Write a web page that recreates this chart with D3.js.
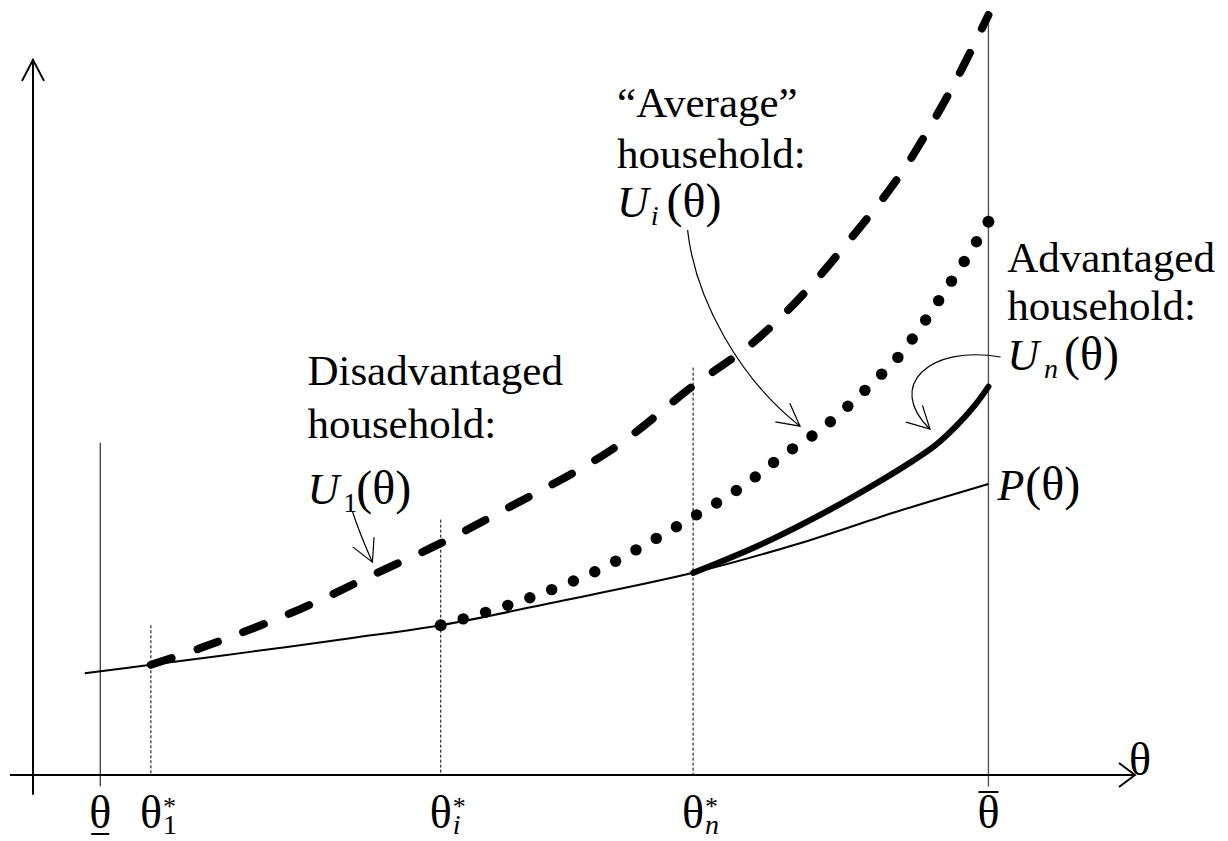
<!DOCTYPE html>
<html><head><meta charset="utf-8">
<script src="https://cdn.jsdelivr.net/npm/d3@7"></script>
<style>
body{margin:0;background:#fff}
svg text{font-family:"Liberation Serif","Times New Roman",serif;fill:#000}
</style>
</head><body>
<svg id="chart" width="1228" height="841"></svg>
<script>
// ---------- data (abstract units: theta 0..100, utility 0..100) ----------
const tickKeys   = ["low", "t1", "ti", "tn", "high"];
const tickValues = [6.1, 10.7, 37.0, 59.9, 86.7];
const tickSup    = ["", "*", "*", "*", ""];
const tickSub    = ["", "1", "i", "n", ""];
const tickSubItalic = [false, false, true, true, false];
const guideTop   = [43.7, 19.7, 33.6, 53.6, 100];   // height of each vertical guide
const guideDashed = [false, true, true, true, false];

const P  = [[4.7,13.4],[10.7,14.5],[19.7,16.2],[28.8,18.0],[37.0,19.7],[46.9,22.6],[59.9,26.6],[69.6,30.5],[78.7,34.8],[86.7,38.3]];
const U1 = [[10.7,14.5],[15.2,16.7],[24.2,21.8],[30.8,26.3],[37.0,30.5],[42.4,34.6],[52.5,42.8],[59.9,51.2],[65.1,56.6],[69.6,62.8],[74.1,70.4],[78.7,79.0],[83.2,89.9],[86.7,100]];
const Ui = [[37.0,19.7],[42.4,22.0],[46.9,24.3],[51.5,27.1],[55.3,30.1],[59.0,33.2],[64.2,37.8],[68.1,42.1],[71.7,45.7],[78.0,54.2],[79.4,56.6],[84.3,67.1],[86.7,72.8]];
const Un = [[59.9,26.6],[66.0,30.3],[72.3,34.9],[76.9,38.7],[79.8,41.3],[81.9,43.4],[83.9,46.1],[85.5,48.7],[86.7,51.1]];

// annotation arrows (cubic: start, c1, c2, end)
const arrowU1 = [[29.0,34.6],[29.6,32.0],[29.9,30.9],[30.8,28.0]];
const arrowUi = [[59.4,71.7],[60.1,62.5],[64.2,52.0],[69.6,45.9]];
const arrowUn = [[87.8,55.0],[81.4,56.6],[77.3,51.3],[81.4,45.5]];

// label anchors
const labelText = [["Disadvantaged","household:"],["\u201CAverage\u201D","household:"],["Advantaged","household:"]];
const labelAnchor = [[24.9,51.3],[53.0,86.6],[88.4,66.2]];

// ---------- scales ----------
const svg = d3.select("#chart");
const x = d3.scaleLinear().domain([0,100]).range([33,1135]);
const y = d3.scaleLinear().domain([0,100]).range([775,15]);

const line = d3.line().x(d=>x(d[0])).y(d=>y(d[1])).curve(d3.curveCatmullRom.alpha(0.5));

// ---------- vertical guides ----------
tickValues.forEach((v,i)=>{
  svg.append("line")
    .attr("x1",x(v)).attr("x2",x(v))
    .attr("y1",y(guideTop[i])).attr("y2", guideDashed[i] ? y(0) : y(-1.5))
    .attr("stroke", i===4 ? "#555" : "#000")
    .attr("stroke-width", i===4 ? 1.4 : 1)
    .attr("stroke-dasharray", guideDashed[i] ? "3,2" : null);
});

// ---------- axes ----------
const axisG = svg.append("g").attr("stroke","#000").attr("stroke-width",2).attr("fill","none");
axisG.append("line").attr("x1",x(-2.1)).attr("x2",x(100)).attr("y1",y(0)).attr("y2",y(0));
axisG.append("path").attr("d",`M${x(100)-16},${y(0)-12}L${x(100)},${y(0)}L${x(100)-16},${y(0)+12}`);
axisG.append("line").attr("x1",x(0)).attr("x2",x(0)).attr("y1",y(-2.6)).attr("y2",y(94.1));
axisG.append("path").attr("d",`M${x(0)-11},${y(94.1)+21}L${x(0)},${y(94.1)}L${x(0)+11},${y(94.1)+21}`);

// ---------- curves ----------
svg.append("path").datum(P).attr("d",line).attr("fill","none").attr("stroke","#000").attr("stroke-width",2);
svg.append("path").datum(Un).attr("d",line).attr("fill","none").attr("stroke","#000").attr("stroke-width",6).attr("stroke-linecap","round");
svg.append("path").datum(U1).attr("d",line).attr("fill","none").attr("stroke","#000").attr("stroke-width",8)
   .attr("stroke-linecap","round").attr("stroke-dasharray","22,27");

// dotted curve: dots evenly spaced along the path
const uiPath = svg.append("path").datum(Ui).attr("d",line).attr("fill","none").attr("stroke","none");
const L = uiPath.node().getTotalLength();
const nDots = Math.round(L/23);
const dots = d3.range(nDots+1).map(k=>uiPath.node().getPointAtLength(L*k/nDots));
svg.append("g").selectAll("circle").data(dots).join("circle")
   .attr("cx",d=>d.x).attr("cy",d=>d.y).attr("r",(d,k)=> (k===0||k===nDots)?6:5.7).attr("fill","#000");

// ---------- annotation arrows ----------
function arrow(pts){
  const p = pts.map(d=>[x(d[0]),y(d[1])]);
  svg.append("path")
    .attr("d",`M${p[0][0]},${p[0][1]}C${p[1][0]},${p[1][1]} ${p[2][0]},${p[2][1]} ${p[3][0]},${p[3][1]}`)
    .attr("fill","none").attr("stroke","#000").attr("stroke-width",1.2);
  const ang = Math.atan2(p[3][1]-p[2][1], p[3][0]-p[2][0]);
  const len = 25, half = 28*Math.PI/180;
  const a1 = [p[3][0]-len*Math.cos(ang-half), p[3][1]-len*Math.sin(ang-half)];
  const a2 = [p[3][0]-len*Math.cos(ang+half), p[3][1]-len*Math.sin(ang+half)];
  svg.append("path").attr("d",`M${a1[0]},${a1[1]}L${p[3][0]},${p[3][1]}L${a2[0]},${a2[1]}`)
    .attr("fill","none").attr("stroke","#000").attr("stroke-width",1.2);
}
arrow(arrowU1); arrow(arrowUi); arrow(arrowUn);

// ---------- text labels ----------
const lineGaps = [[0,53],[0,51],[0,48]];
labelText.forEach((lines,i)=>{
  const t = svg.append("text").attr("x",x(labelAnchor[i][0])).attr("y",y(labelAnchor[i][1])).attr("font-size",43);
  lines.forEach((s,j)=> t.append("tspan").attr("x",x(labelAnchor[i][0])).attr("y",y(labelAnchor[i][1])+lineGaps[i][j]).text(s));
});

function mathLabel(px,py,main,sub,subItalic,dxSub,dxPar){
  const t = svg.append("text").attr("x",px).attr("y",py);
  t.append("tspan").attr("font-size",44).attr("font-style","italic").text(main);
  if(sub){
    t.append("tspan").attr("font-size",28).attr("font-style",subItalic?"italic":"normal")
     .attr("dx",dxSub).attr("dy",8).text(sub);
    t.append("tspan").attr("font-size",48).attr("dx",dxPar).attr("dy",-8).text("(\u03B8)");
  } else {
    t.append("tspan").attr("font-size",48).attr("dx",dxPar).text("(\u03B8)");
  }
}
mathLabel(x(labelAnchor[0][0]), y(labelAnchor[0][1])+119, "U","1",false,4,-1);
mathLabel(x(labelAnchor[1][0]), y(labelAnchor[1][1])+100, "U","i",true,2,8);
mathLabel(x(labelAnchor[2][0]), y(labelAnchor[2][1])+98, "U","n",true,5,6);
mathLabel(x(86.7)+9, y(36.2), "P","",false,0,1);

// ---------- tick labels ----------
tickValues.forEach((v,i)=>{
  const cx = x(v);
  const t = svg.append("text").attr("x",cx).attr("y",828).attr("text-anchor","middle");
  t.append("tspan").attr("font-size",46).text("\u03B8");
  if(tickSup[i]) t.append("tspan").attr("x",cx+12).attr("y",815).attr("text-anchor","start").attr("font-size",26).text(tickSup[i]);
  if(tickSub[i]) t.append("tspan").attr("x",cx+12).attr("y",834).attr("text-anchor","start").attr("font-size",28)
                   .attr("font-style",tickSubItalic[i]?"italic":"normal").text(tickSub[i]);
  if(tickKeys[i]==="low") svg.append("line").attr("x1",cx-9).attr("x2",cx+9).attr("y1",834).attr("y2",834).attr("stroke","#000").attr("stroke-width",2);
  if(tickKeys[i]==="high") svg.append("line").attr("x1",cx-10).attr("x2",cx+10).attr("y1",792).attr("y2",792).attr("stroke","#000").attr("stroke-width",2);
});
svg.append("text").attr("x",x(100)-6).attr("y",y(0)).attr("font-size",46).text("\u03B8");
</script>
</body></html>
